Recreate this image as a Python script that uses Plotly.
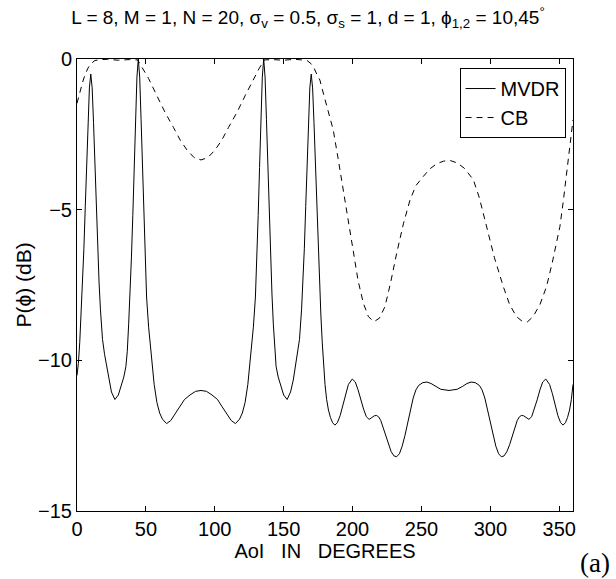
import plotly.graph_objects as go

# ---- data ----
mvdr_x = [0, 1, 2, 3, 4, 5, 6, 7, 8, 9, 10, 11, 12, 13, 14, 15, 16, 17, 18.5, 20,
          21.5, 23, 25, 27.5, 30, 32, 34, 35.5, 36.5, 37.5, 38.5, 39.5, 40.5, 41.5,
          42.5, 43.5, 44.5, 45.5, 46.5, 47.5, 48.5, 49.5, 50.5, 52, 54, 56, 58, 60,
          62, 65, 68, 71, 74.7, 78, 82, 86, 90, 94, 98, 102, 105.3, 109, 112, 115,
          118, 120, 122, 124, 126, 128, 129.5, 130.5, 131.5, 132.5, 133.5, 134.5,
          135.5, 136.5, 137.5, 138.5, 139.5, 140.5, 141.5, 142.5, 143.5, 144.5, 146,
          148, 150, 152.5, 155, 157, 158.5, 160, 161.5, 163, 164, 165, 166, 167, 168,
          169, 170, 171, 172, 173, 174, 175, 176, 177, 178, 179, 180, 181.2, 182.5,
          184, 185.5, 187.2, 189, 191, 193, 195, 197, 199.8, 202, 204, 206, 208, 210,
          212, 214, 215.8, 217.5, 219, 220.5, 222, 224, 226, 228, 230, 232, 234, 236,
          238, 240, 242, 244, 246, 248, 251, 254, 257, 260, 264, 270, 276, 280, 283,
          286, 289, 292, 294, 296, 298, 300, 302, 304, 306, 308, 310, 312, 314, 316,
          318, 319.5, 321, 322.5, 324.2, 326, 328, 330, 332, 334, 336, 338, 340.2,
          343, 345, 347, 349, 351, 352.8, 354.5, 356, 357.5, 358.8, 360]
mvdr_y = [-10.5, -10.1, -9.4, -8.5, -7.5, -6.3, -4.9, -3.5, -2.1, -0.96, -0.5, -0.96,
          -2.1, -3.5, -4.9, -6.3, -7.4, -8.3, -9.3, -9.8, -10.2, -10.65, -11.05, -11.3,
          -11.15, -10.85, -10.55, -10.2, -9.7, -8.8, -7.8, -6.6, -5.2, -3.6, -2.0, -0.6,
          0.0, -0.6, -2.0, -3.6, -5.2, -6.8, -7.9, -8.9, -9.9, -10.8, -11.4, -11.75,
          -11.95, -12.1, -12.0, -11.8, -11.54, -11.3, -11.15, -11.03, -11.0, -11.03,
          -11.15, -11.3, -11.54, -11.8, -12.0, -12.1, -11.95, -11.75, -11.4, -10.8,
          -9.9, -8.9, -7.9, -6.8, -5.2, -3.6, -2.0, -0.6, 0.0, -0.6, -2.0, -3.6, -5.2,
          -6.6, -7.8, -8.8, -9.7, -10.2, -10.55, -10.85, -11.15, -11.3, -11.05, -10.65,
          -10.2, -9.8, -9.3, -8.3, -7.4, -6.3, -4.9, -3.5, -2.1, -0.96, -0.5, -0.96,
          -2.1, -3.5, -4.9, -6.3, -7.5, -8.5, -9.4, -10.2, -10.8, -11.3, -11.65, -11.9,
          -12.07, -12.15, -12.07, -11.83, -11.48, -11.1, -10.8, -10.62, -10.72, -10.98,
          -11.31, -11.62, -11.87, -11.96, -11.9, -11.84, -11.83, -11.88, -12.0, -12.2,
          -12.5, -12.8, -13.03, -13.17, -13.2, -13.1, -12.85, -12.5, -12.1, -11.65,
          -11.25, -10.98, -10.83, -10.74, -10.72, -10.77, -10.86, -10.96, -11.0, -10.96,
          -10.86, -10.77, -10.72, -10.74, -10.83, -10.98, -11.25, -11.65, -12.1, -12.5,
          -12.85, -13.1, -13.2, -13.17, -13.03, -12.8, -12.5, -12.2, -12.0, -11.88,
          -11.83, -11.84, -11.9, -11.96, -11.87, -11.62, -11.31, -10.98, -10.72, -10.62,
          -10.8, -11.1, -11.48, -11.83, -12.07, -12.15, -12.07, -11.9, -11.65, -11.3,
          -10.8]

cb_x = [0, 2, 4, 6, 8, 10, 13, 17, 22, 30, 38, 44, 48, 52, 58, 64, 70, 75, 80, 85,
        90, 95, 100, 105, 110, 116, 122, 128, 132, 136, 142, 150, 158, 163, 167, 170,
        172, 174, 176.3, 178, 180, 183, 186, 189.5, 193.3, 197, 200.5, 204, 207.8,
        211.5, 215.5, 219.5, 223.5, 227.5, 232, 237, 241.7, 246, 251.3, 256, 261, 266,
        271, 276, 281, 287.6, 292, 297.3, 303, 309.4, 314, 319, 323, 327, 331, 336,
        340.8, 345, 350.5, 353, 355.4, 358, 360]
cb_y = [-1.47, -1.1, -0.78, -0.5, -0.3, -0.16, -0.05, -0.02, -0.01, -0.04, -0.02,
        -0.03, -0.33, -0.65, -1.22, -1.78, -2.27, -2.7, -3.03, -3.27, -3.35, -3.27,
        -3.03, -2.7, -2.27, -1.78, -1.22, -0.68, -0.33, -0.03, -0.02, -0.04, -0.01,
        -0.03, -0.05, -0.16, -0.3, -0.5, -0.7, -1.0, -1.35, -1.85, -2.36, -3.3, -4.35,
        -5.45, -6.45, -7.35, -8.1, -8.55, -8.72, -8.6, -8.22, -7.45, -6.45, -5.45,
        -4.68, -4.2, -3.9, -3.65, -3.48, -3.39, -3.37, -3.45, -3.62, -4.0, -4.6, -5.56,
        -6.6, -7.55, -8.15, -8.55, -8.7, -8.72, -8.55, -8.15, -7.55, -6.75, -5.56,
        -4.7, -3.79, -2.85, -2.02]

x_ticks = [0, 50, 100, 150, 200, 250, 300, 350]
y_ticks = [-15, -10, -5, 0]

title_text = ("L = 8, M = 1, N = 20, σ<sub>v</sub> = 0.5, σ<sub>s</sub> = 1, "
              "d = 1, ϕ<sub>1,2</sub> = 10,45<sup>°</sup>")

FONT = "Liberation Sans, Arial, Helvetica, sans-serif"

fig = go.Figure()
fig.add_trace(go.Scatter(x=mvdr_x, y=mvdr_y, mode="lines", name="MVDR",
                         line=dict(color="black", width=1)))
fig.add_trace(go.Scatter(x=cb_x, y=cb_y, mode="lines", name="CB",
                         line=dict(color="black", width=1, dash="6px,5px")))

axis_common = dict(showgrid=False, zeroline=False, showline=True, linecolor="black",
                   linewidth=1, mirror="ticks", ticks="inside", ticklen=5,
                   tickcolor="black", tickwidth=1,
                   tickfont=dict(family=FONT, size=20, color="black"))

fig.update_xaxes(range=[0, 360], tickvals=x_ticks, ticktext=[str(v) for v in x_ticks],
                 title=dict(text="AoI&nbsp;&nbsp;&nbsp;IN&nbsp;&nbsp;&nbsp;DEGREES",
                            font=dict(family=FONT, size=20, color="black"), standoff=2),
                 **axis_common)
fig.update_yaxes(range=[-15, 0], tickvals=y_ticks,
                 title=dict(text="P(ϕ) (dB)", font=dict(family=FONT, size=21, color="black"),
                            standoff=0),
                 **axis_common)

fig.update_layout(
    width=616, height=579,
    margin=dict(l=77, r=43, t=59, b=68),
    paper_bgcolor="white", plot_bgcolor="white",
    title=dict(text=title_text, x=0.5, xanchor="center", xref="container",
               y=0.97, yanchor="middle", yref="container",
               font=dict(family=FONT, size=19, color="black")),
    legend=dict(x=0.985, y=0.98, xanchor="right", yanchor="top",
                bordercolor="black", borderwidth=1, bgcolor="white",
                font=dict(family=FONT, size=20, color="black")),
    showlegend=True,
)

fig.add_annotation(text="(a)", xref="paper", yref="paper", x=1.044, y=-0.115,
                   xanchor="center", yanchor="middle", showarrow=False,
                   font=dict(family="Liberation Serif, DejaVu Serif, serif", size=27,
                             color="black"))

# remove the browser's default 8px body margin so the figure sits at the page origin
fig.write_html("out.html",
               config={"displayModeBar": False},
               post_script="document.body.style.margin='0px';"
                           "document.body.style.overflow='hidden';")
